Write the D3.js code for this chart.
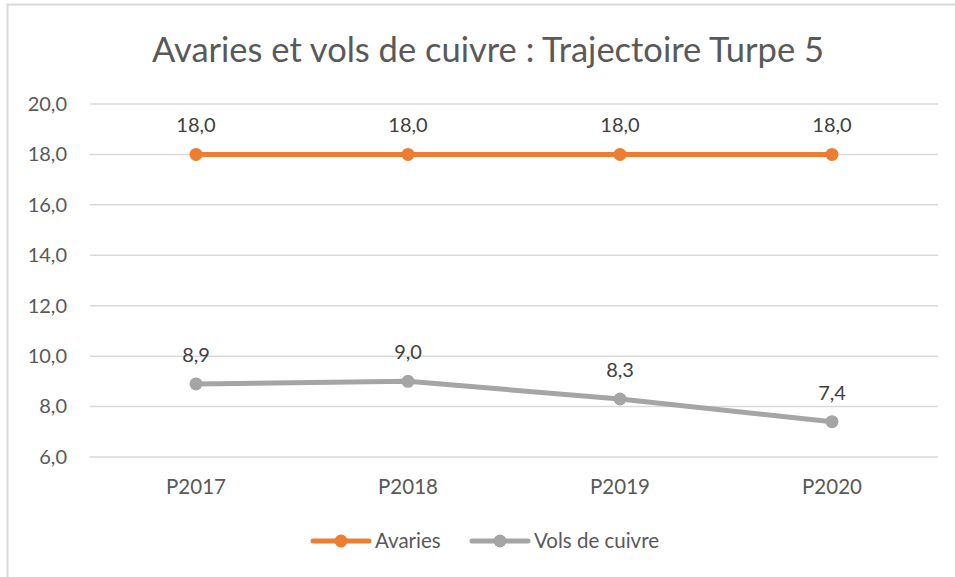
<!DOCTYPE html>
<html>
<head>
<meta charset="utf-8">
<script src="https://cdn.jsdelivr.net/npm/d3@7"></script>
<style>
  body { margin: 0; background: #fff; }
  #chart text { font-family: Lato, "Open Sans", "Liberation Sans", sans-serif; }
</style>
</head>
<body>
<div id="chart"></div>
<script>
var categories = ['P2017', 'P2018', 'P2019', 'P2020'];
var avaries = [18.0, 18.0, 18.0, 18.0];
var volsDeCuivre = [8.9, 9.0, 8.3, 7.4];
var yTicks = [6, 8, 10, 12, 14, 16, 18, 20];
var seriesNames = ['Avaries', 'Vols de cuivre'];
var seriesColors = ['#ed7d31', '#a5a5a5'];

var width = 955, height = 577;
var fmt = function (v) { return d3.format('.1f')(v).replace('.', ','); };

var svg = d3.select('#chart').append('svg')
    .attr('width', width)
    .attr('height', height);

// chart frame (only top and left visible in the picture)
svg.append('path')
    .attr('d', 'M7.5 577 V4.5 H955')
    .attr('fill', 'none')
    .attr('stroke', '#d9d9d9')
    .attr('stroke-width', 2);

svg.append('text')
    .attr('x', 488)
    .attr('y', 62)
    .attr('text-anchor', 'middle')
    .attr('font-size', 34.5)
    .attr('fill', '#595959')
    .text('Avaries et vols de cuivre : Trajectoire Turpe 5');

var x = d3.scaleBand().domain(categories).range([90, 938]);
var y = d3.scaleLinear().domain([6, 20]).range([457, 104]);

// gridlines
svg.append('g')
    .selectAll('line')
    .data(yTicks)
    .enter()
    .append('line')
    .attr('x1', 90)
    .attr('x2', 938)
    .attr('y1', function (d) { return y(d); })
    .attr('y2', function (d) { return y(d); })
    .attr('stroke', '#d9d9d9')
    .attr('stroke-width', 1.5);

var yAxis = svg.append('g')
    .attr('transform', 'translate(67,0)')
    .call(d3.axisLeft(y).tickValues(yTicks).tickFormat(fmt).tickSize(0).tickPadding(0));
yAxis.select('.domain').remove();
yAxis.selectAll('text')
    .attr('font-size', 20)
    .attr('fill', '#595959');

var xAxis = svg.append('g')
    .attr('transform', 'translate(0,' + 479 + ')')
    .call(d3.axisBottom(x).tickSize(0).tickPadding(0));
xAxis.select('.domain').remove();
xAxis.selectAll('text')
    .attr('font-size', 20.5)
    .attr('fill', '#595959');

var cx = function (c) { return x(c) + x.bandwidth() / 2; };
var line = d3.line()
    .x(function (d) { return cx(d.cat); })
    .y(function (d) { return y(d.v); });

var series = [avaries, volsDeCuivre].map(function (vals, i) {
    return {
        name: seriesNames[i],
        color: seriesColors[i],
        points: vals.map(function (v, j) { return { cat: categories[j], v: v }; })
    };
});

series.forEach(function (s) {
    var g = svg.append('g');
    g.append('path')
        .attr('d', line(s.points))
        .attr('fill', 'none')
        .attr('stroke', s.color)
        .attr('stroke-width', 5)
        .attr('stroke-linecap', 'round')
        .attr('stroke-linejoin', 'round');
    g.selectAll('circle')
        .data(s.points)
        .enter()
        .append('circle')
        .attr('cx', function (d) { return cx(d.cat); })
        .attr('cy', function (d) { return y(d.v); })
        .attr('r', 6.5)
        .attr('fill', s.color);
    g.selectAll('text')
        .data(s.points)
        .enter()
        .append('text')
        .attr('x', function (d) { return cx(d.cat); })
        .attr('y', function (d) { return y(d.v) - 22; })
        .attr('text-anchor', 'middle')
        .attr('font-size', 20)
        .attr('fill', '#404040')
        .text(function (d) { return fmt(d.v); });
});

// legend
var legendX = [313, 472];
var legend = svg.append('g');
series.forEach(function (s, i) {
    var lg = legend.append('g').attr('transform', 'translate(' + legendX[i] + ',541)');
    lg.append('line')
        .attr('x1', 0).attr('x2', 56)
        .attr('stroke', s.color)
        .attr('stroke-width', 5)
        .attr('stroke-linecap', 'round');
    lg.append('circle')
        .attr('cx', 28)
        .attr('r', 6.5)
        .attr('fill', s.color);
    lg.append('text')
        .attr('x', 62)
        .attr('dy', '0.35em')
        .attr('font-size', 20.5)
        .attr('fill', '#595959')
        .text(s.name);
});
</script>
</body>
</html>
